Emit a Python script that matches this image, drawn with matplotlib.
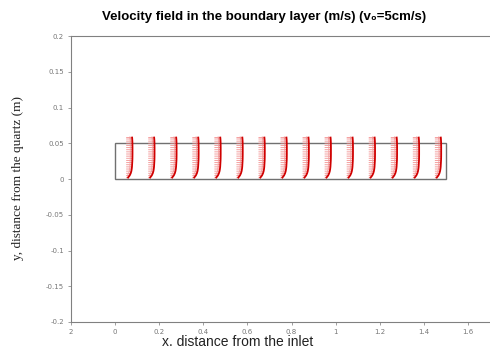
import numpy as np
import matplotlib
matplotlib.use("Agg")
import matplotlib.pyplot as plt
from matplotlib.patches import Rectangle

# stations along the plate (m) where the velocity profile is drawn
x_stations = [0.05, 0.15, 0.25, 0.35, 0.45, 0.55, 0.65, 0.75,
              0.85, 0.95, 1.05, 1.15, 1.25, 1.35, 1.45]
# heights above the quartz (m)
y_levels = [0.002, 0.005, 0.008, 0.011, 0.014, 0.017, 0.020, 0.023, 0.026, 0.029,
            0.032, 0.035, 0.038, 0.041, 0.044, 0.047, 0.050, 0.053, 0.056, 0.058]
# velocity profile u(y) in m/s (v0 = 5 cm/s)
u_profile = [0.015, 0.028, 0.036, 0.041, 0.044, 0.046, 0.047, 0.048, 0.049, 0.0495,
             0.0498, 0.050, 0.050, 0.050, 0.050, 0.0498, 0.0495, 0.049, 0.048, 0.047]

plate_len = 1.5
layer_h = 0.05

xticks = [-0.2, 0, 0.2, 0.4, 0.6, 0.8, 1.0, 1.2, 1.4, 1.6]
xtick_labels = ["2", "0", "0.2", "0.4", "0.6", "0.8", "1", "1.2", "1.4", "1.6"]
yticks = [0.2, 0.15, 0.1, 0.05, 0, -0.05, -0.1, -0.15, -0.2]
ytick_labels = ["0.2", "0.15", "0.1", "0.05", "0", "-0.05", "-0.1", "-0.15", "-0.2"]

fig = plt.figure(figsize=(4.9, 3.5), dpi=100)
ax = fig.add_axes([0.145, 0.08, 0.855, 0.817])

ax.add_patch(Rectangle((0, 0), plate_len, layer_h, fill=False, edgecolor="#707070", lw=1.0))

scale = 1.75  # m/s per axis unit
for xs in x_stations:
    X = np.full(len(y_levels), xs)
    ax.quiver(X, y_levels, u_profile, np.zeros(len(y_levels)), angles="xy",
              scale_units="xy", scale=scale, color="#f08080", width=0.0022,
              headwidth=3, headlength=3, headaxislength=2.5, alpha=0.8)
    tips = X + np.array(u_profile) / scale
    ax.plot(tips, y_levels, color="#d00000", lw=1.3)

ax.set_xlim(-0.2, 1.7)
ax.set_ylim(-0.2, 0.2)
ax.set_xticks(xticks)
ax.set_xticklabels(xtick_labels)
ax.set_yticks(yticks)
ax.set_yticklabels(ytick_labels)
ax.tick_params(labelsize=5, colors="#777777", length=2, width=0.5, pad=3)
for s in ["left", "bottom", "top"]:
    ax.spines[s].set_color("#808080")
ax.spines["right"].set_visible(False)

fig.text(0.539, 0.951, "Velocity field in the boundary layer (m/s) (v\u2080=5cm/s)",
         ha="center", va="center", fontsize=9.5, fontweight="bold",
         family=["Liberation Sans", "DejaVu Sans"])
fig.text(0.037, 0.49, "y, distance from the quartz (m)", rotation=90,
         ha="center", va="center", fontsize=9.5, family="Liberation Serif", color="#222222")
fig.text(0.484, 0.023, "x. distance from the inlet", ha="center", va="center",
         fontsize=10, family="Liberation Sans", color="#222222")

fig.savefig("out.png", dpi=100)
